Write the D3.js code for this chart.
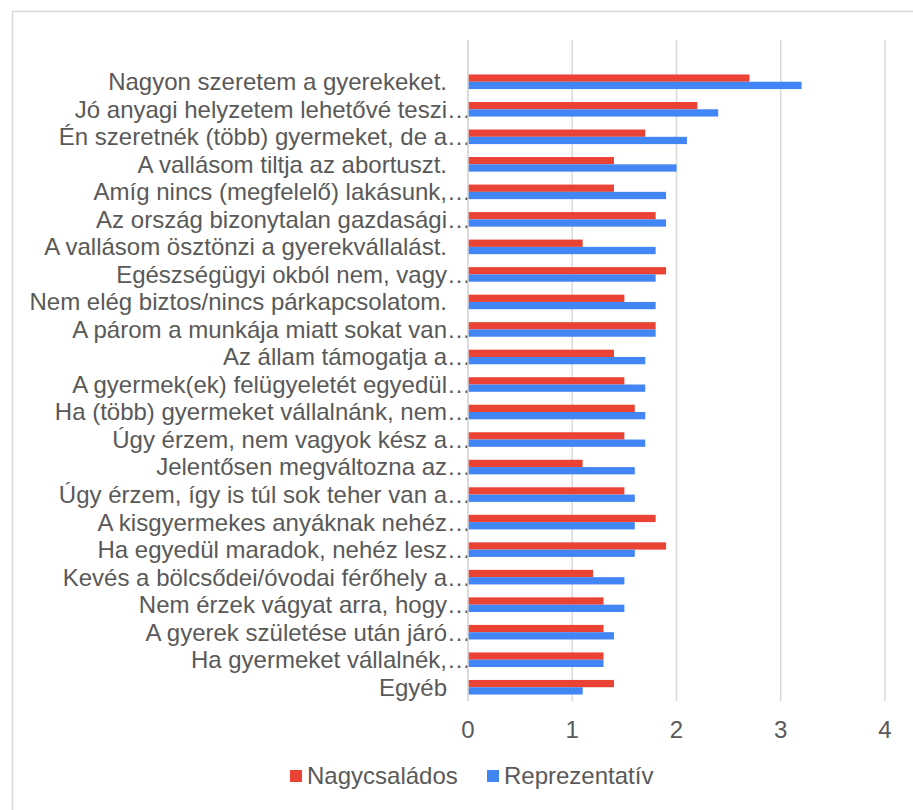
<!DOCTYPE html>
<html>
<head>
<meta charset="utf-8">
<script src="https://cdn.jsdelivr.net/npm/d3@7"></script>
<style>
  body { margin: 0; background: #fff; }
  svg { font-family: "Liberation Sans", Arial, sans-serif; }
</style>
</head>
<body>
<div id="chart"></div>
<script>
// data
var categories = [
    "Nagyon szeretem a gyerekeket.",
    "Jó anyagi helyzetem lehetővé teszi…",
    "Én szeretnék (több) gyermeket, de a…",
    "A vallásom tiltja az abortuszt.",
    "Amíg nincs (megfelelő) lakásunk,…",
    "Az ország bizonytalan gazdasági…",
    "A vallásom ösztönzi a gyerekvállalást.",
    "Egészségügyi okból nem, vagy…",
    "Nem elég biztos/nincs párkapcsolatom.",
    "A párom a munkája miatt sokat van…",
    "Az állam támogatja a…",
    "A gyermek(ek) felügyeletét egyedül…",
    "Ha (több) gyermeket vállalnánk, nem…",
    "Úgy érzem, nem vagyok kész a…",
    "Jelentősen megváltozna az…",
    "Úgy érzem, így is túl sok teher van a…",
    "A kisgyermekes anyáknak nehéz…",
    "Ha egyedül maradok, nehéz lesz…",
    "Kevés a bölcsődei/óvodai férőhely a…",
    "Nem érzek vágyat arra, hogy…",
    "A gyerek születése után járó…",
    "Ha gyermeket vállalnék,…",
    "Egyéb"
]
var nagycsaladosValues = [2.7, 2.2, 1.7, 1.4, 1.4, 1.8, 1.1, 1.9, 1.5, 1.8, 1.4, 1.5, 1.6, 1.5, 1.1, 1.5, 1.8, 1.9, 1.2, 1.3, 1.3, 1.3, 1.4]
var reprezentativValues = [3.2, 2.4, 2.1, 2.0, 1.9, 1.9, 1.8, 1.8, 1.8, 1.8, 1.7, 1.7, 1.7, 1.7, 1.6, 1.6, 1.6, 1.6, 1.5, 1.5, 1.4, 1.3, 1.1]
var seriesNames = ["Nagycsaládos", "Reprezentatív"]
var seriesColors = ["#EA4335", "#4285F4"]
var xTicks = [0, 1, 2, 3, 4]

var width = 913
var height = 810
var textColor = "#595959"
var gridColor = "#d9d9d9"
var fontSize = "24px"

var svg = d3.select("#chart")
    .append("svg")
    .attr("width", width)
    .attr("height", height)

// chart frame (runs off the right and bottom)
svg.append("rect")
    .attr("x", 12.5)
    .attr("y", 11.5)
    .attr("width", 940)
    .attr("height", 840)
    .attr("fill", "none")
    .attr("stroke", gridColor)
    .attr("stroke-width", 1.5)

var plotTop = 40
var plotBottom = 701

var x = d3.scaleLinear()
    .domain([0, 4])
    .range([468, 885])

// first band is left empty like in the original
var y = d3.scaleBand()
    .domain(categories)
    .range([68, plotBottom])
    .paddingInner(0.47)
    .paddingOuter(0.235)

var ySub = d3.scaleBand()
    .domain(seriesNames)
    .range([0, y.bandwidth()])

// gridlines
svg.append("g")
    .selectAll("line")
    .data(xTicks)
    .enter()
    .append("line")
    .attr("x1", d => x(d))
    .attr("x2", d => x(d))
    .attr("y1", plotTop)
    .attr("y2", plotBottom)
    .attr("stroke", gridColor)
    .attr("stroke-width", 1.5)

// tick labels
svg.append("g")
    .selectAll("text")
    .data(xTicks)
    .enter()
    .append("text")
    .attr("x", d => x(d))
    .attr("y", 730)
    .attr("dy", "0.35em")
    .attr("text-anchor", "middle")
    .attr("fill", textColor)
    .style("font-size", fontSize)
    .text(d => d)

// bars
var series = [nagycsaladosValues, reprezentativValues]
series.forEach(function (vals, si) {
    svg.append("g")
        .selectAll("rect")
        .data(vals)
        .enter()
        .append("rect")
        .attr("x", x(0))
        .attr("y", (d, i) => y(categories[i]) + ySub(seriesNames[si]))
        .attr("width", d => x(d) - x(0))
        .attr("height", ySub.bandwidth())
        .attr("fill", seriesColors[si])
})

// category labels: truncated ones keep the ellipsis past the text edge
var labelRight = 447
var labels = svg.append("g")
    .selectAll("g")
    .data(categories)
    .enter()
    .append("g")
    .attr("transform", d => "translate(0," + (y(d) + y.bandwidth() / 2) + ")")

labels.append("text")
    .attr("x", labelRight)
    .attr("dy", "0.35em")
    .attr("text-anchor", "end")
    .attr("fill", textColor)
    .style("font-size", fontSize)
    .text(d => d.replace("…", ""))

labels.filter(d => d.endsWith("…"))
    .append("text")
    .attr("x", labelRight)
    .attr("dy", "0.35em")
    .attr("fill", textColor)
    .style("font-size", fontSize)
    .text("…")

// axis line on the left
svg.append("line")
    .attr("x1", x(0))
    .attr("x2", x(0))
    .attr("y1", plotTop)
    .attr("y2", plotBottom)
    .attr("stroke", gridColor)
    .attr("stroke-width", 1.5)

// legend
var legendPos = [290, 487]
var legend = svg.append("g")
    .selectAll("g")
    .data(seriesNames)
    .enter()
    .append("g")
    .attr("transform", (d, i) => "translate(" + legendPos[i] + ",776)")

legend.append("rect")
    .attr("x", 0)
    .attr("y", -6)
    .attr("width", 12)
    .attr("height", 12)
    .attr("fill", (d, i) => seriesColors[i])

legend.append("text")
    .attr("x", 17)
    .attr("dy", "0.35em")
    .attr("fill", textColor)
    .style("font-size", fontSize)
    .text(d => d)
</script>
</body>
</html>
